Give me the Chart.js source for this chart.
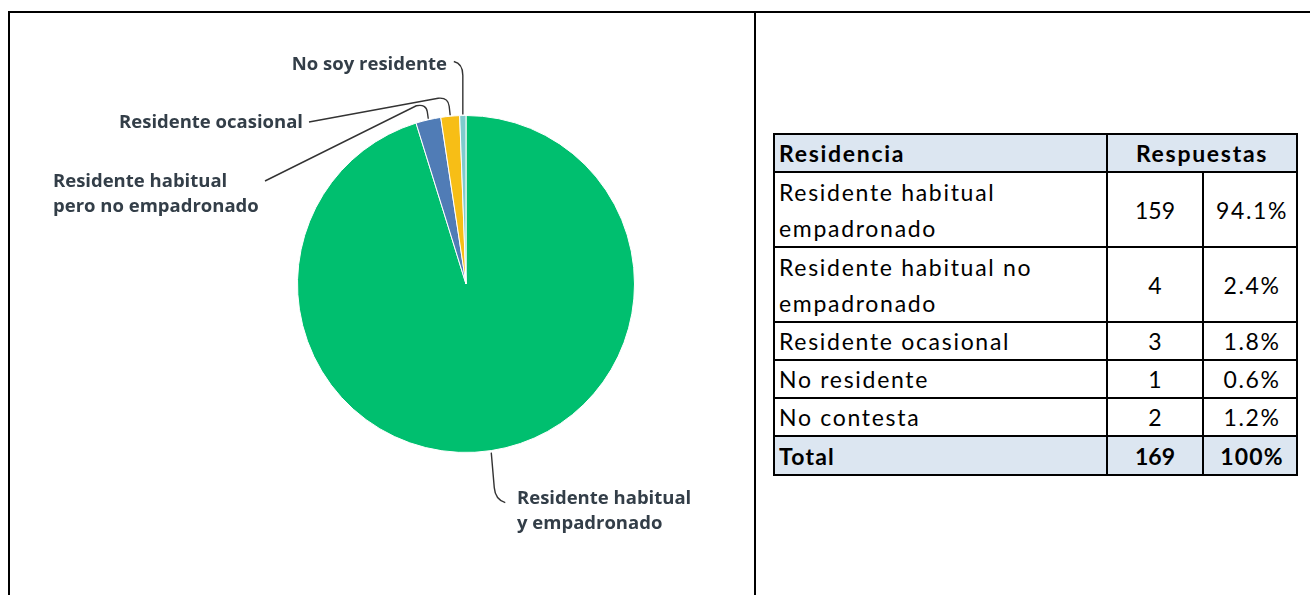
<!DOCTYPE html>
<html>
<head>
<meta charset="utf-8">
<script src="https://cdn.jsdelivr.net/npm/chart.js@4/dist/chart.umd.min.js"></script>
<style>
  html, body { margin: 0; padding: 0; background: #fff; width: 1310px; height: 595px; overflow: hidden; }
  .hline { position: absolute; left: 8px; top: 11px; width: 1302px; height: 2px; background: #000; }
  .vline { position: absolute; top: 11px; width: 2px; height: 584px; background: #000; }
  #chartBox { position: absolute; left: 10px; top: 13px; width: 744px; height: 582px; }
  table { position: absolute; left: 773px; top: 133px; border-collapse: collapse; table-layout: fixed;
          font-family: Lato, "Open Sans", sans-serif; font-size: 23px; color: #000; }
  td { border: 2px solid #000; padding: 0 4px; line-height: 36px; white-space: pre-line; vertical-align: middle; letter-spacing: 1.7px; }
  td.num { text-align: center; padding: 0; letter-spacing: 0; }
  td.pct { text-align: center; padding: 0 0 0 4px; letter-spacing: 1.6px; }
  tr.head td, tr.total td { background: #dce6f1; font-weight: 700; }
  tr.head td.resp { text-align: center; }
  tr.total td { letter-spacing: 1.2px; }
  tr.total td.num { letter-spacing: 0; }
</style>
</head>
<body>
<div class="hline"></div>
<div class="vline" style="left:8px"></div>
<div class="vline" style="left:754px"></div>
<div id="chartBox"><canvas id="c"></canvas></div>
<table id="tbl">
  <colgroup><col style="width:333px"><col style="width:96px"><col style="width:94px"></colgroup>
  <tbody id="tb"></tbody>
</table>
<script>
// ---- Pie data ----
const pieCategories = ['Residente habitual\ny empadronado', 'Residente habitual\npero no empadronado', 'Residente ocasional', 'No soy residente'];
const pieValues = [159, 4, 3, 1];
const pieColors = ['#00bf6f', '#507cb6', '#f7be16', '#7fcbcd'];

// ---- Table data ----
const tableHeader = ['Residencia', 'Respuestas'];
const tableCategories = ['Residente habitual\nempadronado', 'Residente habitual no\nempadronado', 'Residente ocasional', 'No residente', 'No contesta'];
const tableCounts = [159, 4, 3, 1, 2];
const tablePercents = ['94.1%', '2.4%', '1.8%', '0.6%', '1.2%'];
const tableTotal = ['Total', 169, '100%'];

// build table
const rowHeights = [38, 75, 75, 37, 38, 38, 39];
const tb = document.getElementById('tb');
let html = `<tr class="head" style="height:${rowHeights[0]}px"><td>${tableHeader[0]}</td><td class="resp" colspan="2">${tableHeader[1]}</td></tr>`;
tableCategories.forEach((cat, i) => {
  html += `<tr style="height:${rowHeights[i+1]}px"><td>${cat}</td><td class="num">${tableCounts[i]}</td><td class="pct">${tablePercents[i]}</td></tr>`;
});
html += `<tr class="total" style="height:${rowHeights[6]}px"><td>${tableTotal[0]}</td><td class="num">${tableTotal[1]}</td><td class="pct">${tableTotal[2]}</td></tr>`;
tb.innerHTML = html;

// callout plugin
const callouts = {
  id: 'callouts',
  afterDraw(chart) {
    const ctx = chart.ctx;
    const meta = chart.getDatasetMeta(0);
    const a0 = meta.data[0];
    const cx = a0.x, cy = a0.y, R = a0.outerRadius;
    const pts = meta.data.map(arc => {
      const mid = (arc.startAngle + arc.endAngle) / 2;
      return { x: cx + R * Math.cos(mid), y: cy + R * Math.sin(mid) };
    });
    ctx.save();
    ctx.strokeStyle = '#333';
    ctx.lineWidth = 1.4;
    // green
    let E = pts[0];
    ctx.beginPath();
    ctx.moveTo(E.x, E.y + 2);
    ctx.lineTo(E.x + 3, E.y + 37);
    ctx.quadraticCurveTo(E.x + 4, E.y + 49, E.x + 14, E.y + 52);
    ctx.stroke();
    // blue
    E = pts[1];
    ctx.beginPath();
    ctx.moveTo(E.x, E.y - 1);
    ctx.lineTo(E.x - 1, E.y - 8);
    ctx.quadraticCurveTo(E.x - 2, E.y - 16, E.x - 12, E.y - 14);
    ctx.lineTo(cx - 201, cy - 103);
    ctx.stroke();
    // yellow
    E = pts[2];
    ctx.beginPath();
    ctx.moveTo(E.x, E.y - 1);
    ctx.lineTo(E.x - 1, E.y - 10);
    ctx.quadraticCurveTo(E.x - 2, E.y - 19, E.x - 12, E.y - 18);
    ctx.lineTo(cx - 157, cy - 162);
    ctx.stroke();
    // teal
    E = pts[3];
    ctx.beginPath();
    ctx.moveTo(E.x, E.y - 1);
    ctx.lineTo(E.x, E.y - 40);
    ctx.quadraticCurveTo(E.x, E.y - 52, E.x - 9, E.y - 54);
    ctx.stroke();

    // labels
    ctx.fillStyle = '#333e48';
    ctx.font = '700 18.5px "Open Sans", Roboto, sans-serif';
    ctx.textBaseline = 'middle';
    const place = [
      { dx: 51, dy: 215, align: 'left' },
      { dx: -413, dy: -102, align: 'left' },
      { dx: -163, dy: -161, align: 'right' },
      { dx: -19, dy: -219, align: 'right' }
    ];
    pieCategories.forEach((txt, i) => {
      const p = place[i];
      ctx.textAlign = p.align;
      txt.split('\n').forEach((line, k) => {
        ctx.fillText(line, cx + p.dx, cy + p.dy + k * 25);
      });
    });
    ctx.restore();
  }
};

new Chart(document.getElementById('c'), {
  type: 'pie',
  data: {
    labels: pieCategories,
    datasets: [{ data: pieValues, backgroundColor: pieColors, borderColor: '#ffffff', borderWidth: 1 }]
  },
  options: {
    responsive: true,
    maintainAspectRatio: false,
    animation: false,
    events: [],
    layout: { padding: { left: 287, right: 119, top: 102, bottom: 142 } },
    plugins: { legend: { display: false }, tooltip: { enabled: false } }
  },
  plugins: [callouts]
});
</script>
</body>
</html>
